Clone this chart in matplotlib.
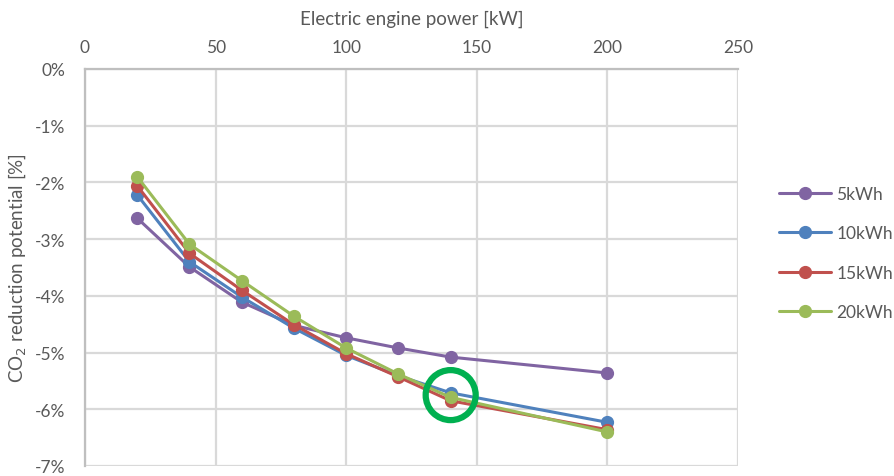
import matplotlib
matplotlib.use("Agg")
import matplotlib.pyplot as plt
from matplotlib.patches import Ellipse
from matplotlib.ticker import FuncFormatter

power = [20, 40, 60, 80, 100, 120, 140, 200]
series_names = ["5kWh", "10kWh", "15kWh", "20kWh"]
s5 = [-2.63, -3.49, -4.11, -4.52, -4.74, -4.92, -5.08, -5.36]
s10 = [-2.22, -3.40, -4.02, -4.57, -5.05, -5.41, -5.71, -6.23]
s15 = [-2.06, -3.25, -3.90, -4.51, -5.02, -5.43, -5.85, -6.36]
s20 = [-1.90, -3.09, -3.73, -4.36, -4.92, -5.38, -5.79, -6.40]
colors = ["#8064A2", "#4F81BD", "#C0504D", "#9BBB59"]
xticks = [0, 50, 100, 150, 200, 250]
yticks = [0, -1, -2, -3, -4, -5, -6, -7]
highlight = (140, -5.75)

plt.rcParams['font.family'] = ['Lato', 'DejaVu Sans']
txt = "#595959"
grid = "#D9D9D9"

fig = plt.figure(figsize=(8.95, 4.77), dpi=100)
ax = fig.add_axes([85/895, 1 - 467/477, (738-85)/895, (467-70)/477])

for name, vals, c in zip(series_names, [s5, s10, s15, s20], colors):
    ax.plot(power, vals, color=c, lw=2.2, marker="o", ms=8.5, label=name,
            solid_capstyle="round", zorder=3)

ax.set_xlim(0, 250)
ax.set_ylim(-7, 0)
ax.set_xticks(xticks)
ax.set_yticks(yticks)
ax.yaxis.set_major_formatter(FuncFormatter(lambda v, p: f"{int(round(v))}%"))
ax.xaxis.tick_top()
ax.xaxis.set_label_position("top")
ax.tick_params(axis="both", length=0, colors=txt, labelsize=12.5)
ax.tick_params(axis="x", pad=10)
ax.tick_params(axis="y", pad=14)
ax.grid(True, color=grid, lw=1.6, zorder=0)
for s in ["right", "bottom"]:
    ax.spines[s].set_visible(False)
for s in ["left", "top"]:
    ax.spines[s].set_color("#BFBFBF")
    ax.spines[s].set_linewidth(1.6)

ax.set_xlabel("Electric engine power [kW]", color=txt, fontsize=13.5, labelpad=11)
ax.set_ylabel("CO$_2$ reduction potential [%]", color=txt, fontsize=13.5, labelpad=5)

# highlight circle (screen-round)
w = 2 * 25 / ((738 - 85) / 250)
h = 2 * 25 / ((467 - 70) / 7)
ax.add_patch(Ellipse(highlight, w, h, fill=False, ec="#00B050", lw=4.5, zorder=5))

leg = fig.legend(loc="upper left", bbox_to_anchor=(772/895, 1 - 180/477), frameon=False,
                 fontsize=12.5, labelcolor=txt, handlelength=3.0, labelspacing=1.35,
                 handletextpad=0.3, borderaxespad=0)

fig.savefig("out.png", dpi=100)
